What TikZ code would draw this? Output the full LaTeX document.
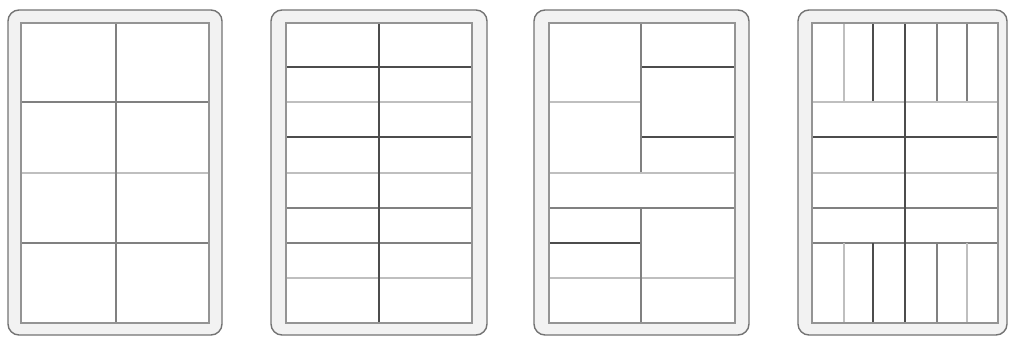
\documentclass[tikz,border=0pt]{standalone}
\begin{document}
\begin{tikzpicture}[x=1pt,y=-1pt,
  frame/.style={draw=black!55,fill=black!5,line width=1.4pt,rounded corners=11pt},
  panel/.style={draw=black!42,fill=white,line width=1.4pt},
  edge/.style={draw=black!42,line width=1.4pt},
  dk/.style={draw=black!70,line width=1.1pt},
  md/.style={draw=black!50,line width=1.1pt},
  lt/.style={draw=black!25,line width=1.1pt}]
\useasboundingbox (0,0) rectangle (1009,338);
% ---- card 1
\path[frame] (8,10) rectangle (222,335);
\path[panel] (21,23) rectangle (209,323);
\draw[md] (21,102) -- (209,102);
\draw[lt] (21,173) -- (209,173);
\draw[md] (21,243) -- (209,243);
\draw[md] (116,23) -- (116,323);
\path[edge] (21,23) rectangle (209,323);
% ---- card 2
\path[frame] (271,10) rectangle (487,335);
\path[panel] (286,23) rectangle (472,323);
\draw[dk] (286,67) -- (472,67);
\draw[lt] (286,102) -- (472,102);
\draw[dk] (286,137) -- (472,137);
\draw[lt] (286,173) -- (472,173);
\draw[md] (286,208) -- (472,208);
\draw[md] (286,243) -- (472,243);
\draw[lt] (286,278) -- (472,278);
\draw[dk] (379,23) -- (379,323);
\path[edge] (286,23) rectangle (472,323);
% ---- card 3
\path[frame] (534,10) rectangle (749,335);
\path[panel] (549,23) rectangle (735,323);
\draw[lt] (549,102) -- (641,102);
\draw[dk] (641,67) -- (735,67);
\draw[dk] (641,137) -- (735,137);
\draw[md] (641,23) -- (641,173);
\draw[lt] (549,173) -- (735,173);
\draw[md] (549,208) -- (735,208);
\draw[dk] (549,243) -- (641,243);
\draw[lt] (549,278) -- (735,278);
\draw[md] (641,208) -- (641,323);
\path[edge] (549,23) rectangle (735,323);
% ---- card 4
\path[frame] (798,10) rectangle (1007,335);
\path[panel] (812,23) rectangle (998,323);
\draw[lt] (844,23) -- (844,102);
\draw[dk] (873,23) -- (873,102);
\draw[md] (937,23) -- (937,102);
\draw[md] (967,23) -- (967,102);
\draw[lt] (812,102) -- (998,102);
\draw[dk] (812,137) -- (998,137);
\draw[lt] (812,173) -- (998,173);
\draw[md] (812,208) -- (998,208);
\draw[md] (812,243) -- (998,243);
\draw[lt] (844,243) -- (844,323);
\draw[dk] (873,243) -- (873,323);
\draw[md] (937,243) -- (937,323);
\draw[lt] (967,243) -- (967,323);
\draw[dk] (905,23) -- (905,323);
\path[edge] (812,23) rectangle (998,323);
\end{tikzpicture}
\end{document}
